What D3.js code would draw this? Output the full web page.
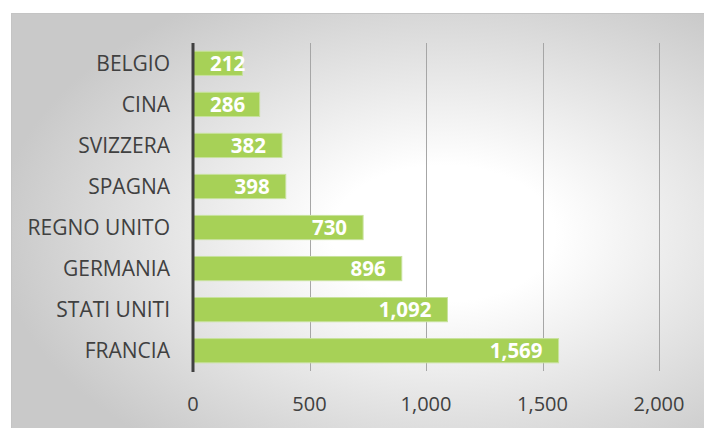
<!DOCTYPE html>
<html>
<head>
<meta charset="utf-8">
<script src="https://cdn.jsdelivr.net/npm/d3@7"></script>
<style>
  body { margin: 0; background: #fff; }
  svg { display: block; font-family: 'Open Sans', sans-serif; }
</style>
</head>
<body>
<div id="chart"></div>
<script>
const countries = ['BELGIO', 'CINA', 'SVIZZERA', 'SPAGNA', 'REGNO UNITO', 'GERMANIA', 'STATI UNITI', 'FRANCIA'];
const values = [212, 286, 382, 398, 730, 896, 1092, 1569];
const ticks = [0, 500, 1000, 1500, 2000];

const width = 704;
const height = 428;
const margin = { top: 43, right: 45, bottom: 57, left: 193 };

const svg = d3.select('#chart').append('svg')
  .attr('width', width)
  .attr('height', height);

// background gradient
const grad = svg.append('defs').append('radialGradient')
  .attr('id', 'bg')
  .attr('cx', 0.6).attr('cy', 0.5).attr('r', 0.62);
grad.append('stop').attr('offset', 0).attr('stop-color', '#ffffff');
grad.append('stop').attr('offset', 0.25).attr('stop-color', '#ffffff');
grad.append('stop').attr('offset', 1).attr('stop-color', '#c9c9c9');

svg.append('rect')
  .attr('x', 11.5).attr('y', 13.5)
  .attr('width', 720).attr('height', 440)
  .attr('fill', 'url(#bg)')
  .attr('stroke', '#c4c4c4');

const x = d3.scaleLinear()
  .domain([0, 2000])
  .range([margin.left, 659]);

const y = d3.scaleBand()
  .domain(countries)
  .range([margin.top, 371])
  .paddingInner(0.41)
  .paddingOuter(0.2);

// gridlines
svg.append('g')
  .selectAll('line')
  .data(ticks.slice(1))
  .join('line')
  .attr('x1', d => Math.round(x(d)) + 0.5)
  .attr('x2', d => Math.round(x(d)) + 0.5)
  .attr('y1', margin.top)
  .attr('y2', 371)
  .attr('stroke', '#a6a6a6')
  .attr('stroke-width', 1);

// bars
svg.append('g')
  .selectAll('rect')
  .data(countries)
  .join('rect')
  .attr('x', x(0))
  .attr('y', d => y(d))
  .attr('width', (d, i) => x(values[i]) - x(0))
  .attr('height', y.bandwidth())
  .attr('fill', '#a7d157')
  .attr('stroke', '#c8e29d')
  .attr('stroke-width', 1);

// value labels
svg.append('g')
  .selectAll('text')
  .data(countries)
  .join('text')
  .attr('y', d => y(d) + y.bandwidth() / 2)
  .attr('dy', '0.36em')
  .attr('fill', '#ffffff')
  .attr('font-weight', 'bold')
  .attr('font-size', '20.5px')
  .text((d, i) => d3.format(',')(values[i]))
  .each(function (d, i) {
    const w = this.getComputedTextLength();
    const start = Math.max(x(values[i]) - 16 - w, x(0) + 17);
    d3.select(this).attr('x', start);
  });

// category labels
svg.append('g')
  .selectAll('text')
  .data(countries)
  .join('text')
  .attr('x', 170)
  .attr('y', d => y(d) + y.bandwidth() / 2)
  .attr('dy', '0.36em')
  .attr('text-anchor', 'end')
  .attr('fill', '#404040')
  .attr('font-size', '21px')
  .text(d => d);

// vertical axis line
svg.append('line')
  .attr('x1', x(0)).attr('x2', x(0))
  .attr('y1', margin.top).attr('y2', 372)
  .attr('stroke', '#404040')
  .attr('stroke-width', 3);

// tick labels
svg.append('g')
  .selectAll('text')
  .data(ticks)
  .join('text')
  .attr('x', d => x(d))
  .attr('y', 404)
  .attr('dy', '0.36em')
  .attr('text-anchor', 'middle')
  .attr('fill', '#404040')
  .attr('font-size', '20px')
  .text(d => d3.format(',')(d));
</script>
</body>
</html>
